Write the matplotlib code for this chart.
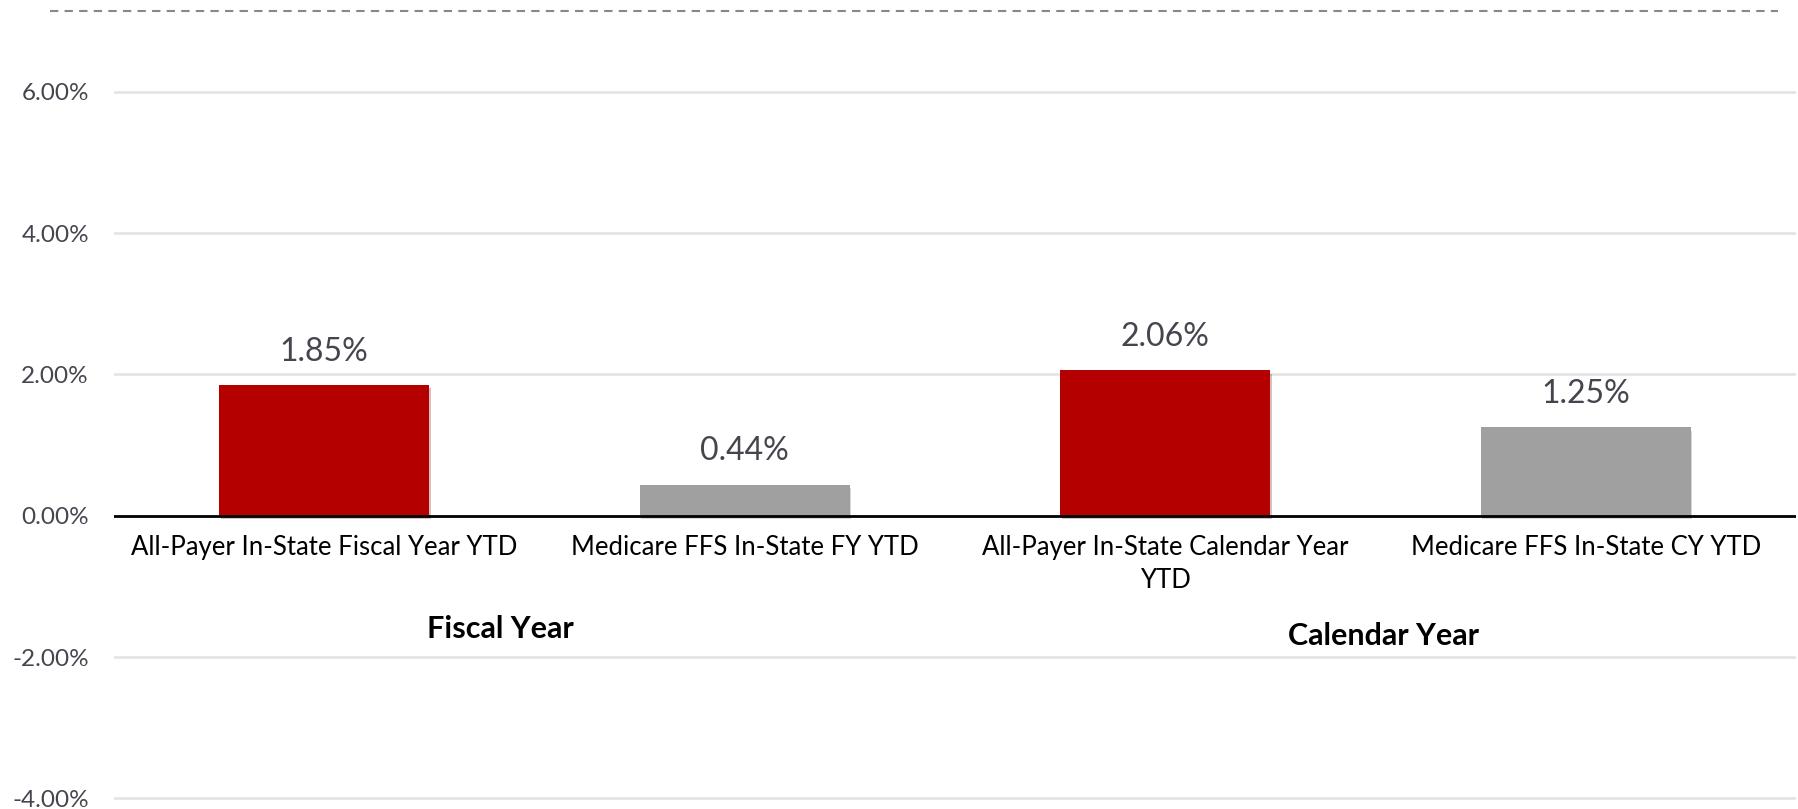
import matplotlib
matplotlib.use("Agg")
import matplotlib.pyplot as plt
from matplotlib.lines import Line2D
import matplotlib.patheffects as pe

categories = ["All-Payer In-State Fiscal Year YTD",
              "Medicare FFS In-State FY YTD",
              "All-Payer In-State Calendar Year\nYTD",
              "Medicare FFS In-State CY YTD"]
values = [1.85, 0.44, 2.06, 1.25]
value_labels = ["1.85%", "0.44%", "2.06%", "1.25%"]
bar_colors = ["#B50000", "#A0A0A0", "#B50000", "#A0A0A0"]
groups = ["Fiscal Year", "Calendar Year"]
group_x = [0.42, 2.52]
group_y = [-1.60, -1.70]
yticks = [-4, -2, 0, 2, 4, 6]
ytick_labels = ["-4.00%", "-2.00%", "0.00%", "2.00%", "4.00%", "6.00%"]

plt.rcParams['font.family'] = ['Lato', 'DejaVu Sans']

fig = plt.figure(figsize=(17.99, 8.09), dpi=100)
ax = fig.add_axes([114/1799, 1-801.9/809, (1796-114)/1799, (801.9-21)/809])

x = list(range(len(categories)))
bars = ax.bar(x, values, width=0.5, color=bar_colors, zorder=3,
              path_effects=[pe.SimplePatchShadow(offset=(1, -2.5), alpha=0.25, rho=0.6), pe.Normal()])

for xi, v, lab in zip(x, values, value_labels):
    ax.annotate(lab, (xi, v), xytext=(0, 24), textcoords='offset points',
                ha='center', va='center', fontsize=23, color='#45454F')

ax.set_xlim(-0.5, 3.5)
ax.set_ylim(-4.05, 7.0)
ax.set_yticks(yticks)
ax.set_yticklabels(ytick_labels, fontsize=17.5, color='#45454F')
ax.set_xticks([])
ax.grid(axis='y', color='#E2E2E6', linewidth=1.8, zorder=0)
ax.axhline(0, color='black', linewidth=2, zorder=4)
for s in ax.spines.values():
    s.set_visible(False)
ax.tick_params(axis='y', length=0, pad=18)

for xi, c in zip(x, categories):
    ax.text(xi, -0.27, c, ha='center', va='top', fontsize=18.5, color='black',
            linespacing=1.4)

for gx, gy, g in zip(group_x, group_y, groups):
    ax.text(gx, gy, g, ha='center', va='center', fontsize=22, fontweight='bold', color='black')

fig.add_artist(Line2D([50/1799, 1778/1799], [1-11/809, 1-11/809], transform=fig.transFigure,
                      color='#888888', linewidth=1.5, linestyle=(0, (4, 3))))

fig.savefig("out.png", dpi=100, facecolor='white')
